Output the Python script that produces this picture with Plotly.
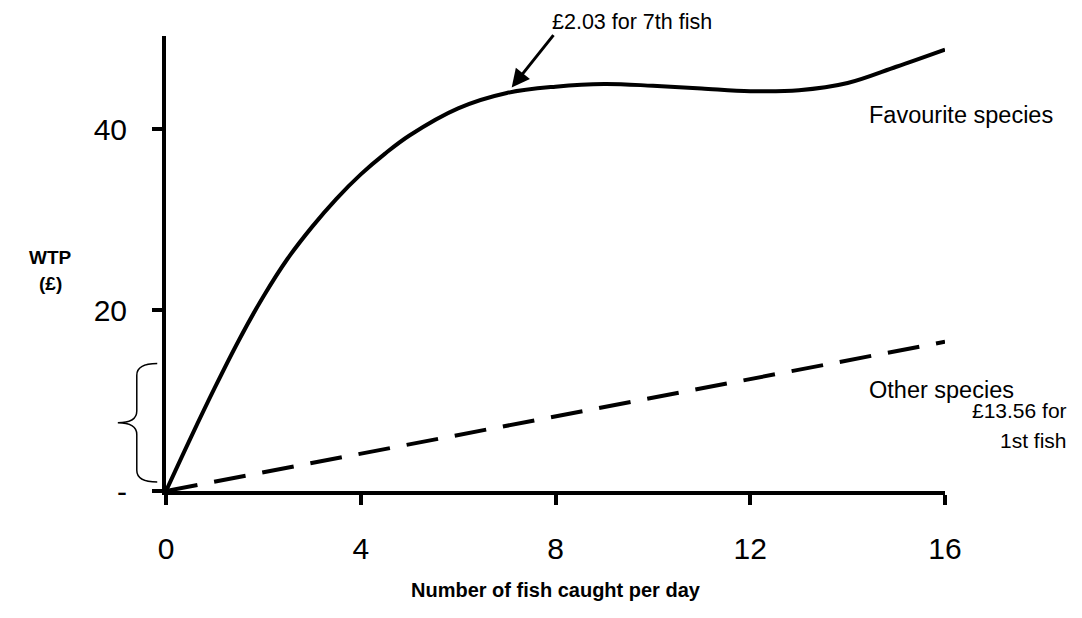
import plotly.graph_objects as go

# ---- data ----
fish = [0, 0.5, 1, 1.5, 2, 2.5, 3, 3.5, 4, 4.5, 5, 6, 7, 8, 9, 10, 11, 12, 13, 14, 15, 16]
wtp_favourite = [0, 5.8, 11.4, 16.7, 21.5, 25.7, 29.2, 32.3, 35.0, 37.3, 39.3, 42.3, 44.0,
                 44.7, 45.0, 44.8, 44.5, 44.2, 44.3, 45.1, 46.9, 48.8]
fish_other = [0, 16]
wtp_other = [0, 16.5]

x_ticks = [0, 4, 8, 12, 16]
y_ticks = [0, 20, 40]
y_ticktext = ["-", "20", "40"]

X_RANGE = [0, 16]
Y_RANGE = [0, 50.3]

# layout geometry (pixels)
W, H = 1082, 618
L, R, T, B = 166, 137, 36, 127
PW, PH = W - L - R, H - T - B


def px(x):
    return (x - L) / PW


def py(y):
    return (H - B - y) / PH


def dx(x):
    return (x - X_RANGE[0]) / (X_RANGE[1] - X_RANGE[0])


def dy(y):
    return (y - Y_RANGE[0]) / (Y_RANGE[1] - Y_RANGE[0])


SANS = "Liberation Sans, Arial, sans-serif"

fig = go.Figure()
fig.add_trace(go.Scatter(x=fish, y=wtp_favourite, mode="lines",
                         line=dict(color="black", width=4, shape="spline", smoothing=1.0),
                         showlegend=False, hoverinfo="skip"))
fig.add_trace(go.Scatter(x=fish_other, y=wtp_other, mode="lines",
                         line=dict(color="black", width=4, dash="32px,17px"),
                         showlegend=False, hoverinfo="skip"))


def brace_path(xe, xm, xt, y0, y1, d):
    # all inputs in data units, output in paper units
    ym = (y0 + y1) / 2
    P = lambda x, y: f"{dx(x):.5f},{dy(y):.5f}"
    return (f"M {P(xe, y1)} Q {P(xm, y1)} {P(xm, y1 - d)} L {P(xm, ym + d)} "
            f"Q {P(xm, ym)} {P(xt, ym)} Q {P(xm, ym)} {P(xm, ym - d)} "
            f"L {P(xm, y0 + d)} Q {P(xm, y0)} {P(xe, y0)}")


fig.add_shape(type="path", xref="paper", yref="paper",
              path=brace_path(-0.18, -0.6, -0.99, 1.0, 14.1, 1.3),
              line=dict(color="black", width=1.5))

annots = [
    dict(text="£2.03 for 7th fish", x=px(550), y=py(22), xanchor="left", yanchor="middle",
         font=dict(family=SANS, size=21.5)),
    dict(text="Favourite species", x=px(867), y=py(115), xanchor="left", yanchor="middle",
         font=dict(family=SANS, size=23.5)),
    dict(text="Other species", x=px(867), y=py(390), xanchor="left", yanchor="middle",
         font=dict(family=SANS, size=23.5)),
    dict(text="£13.56 for", x=px(1069), y=py(410), xanchor="right", yanchor="middle",
         font=dict(family=SANS, size=21)),
    dict(text="1st fish", x=px(1069), y=py(440), xanchor="right", yanchor="middle",
         font=dict(family=SANS, size=21)),
    dict(text="<b>WTP</b>", x=px(51), y=py(257), xanchor="center", yanchor="middle",
         font=dict(family=SANS, size=19)),
    dict(text="<b>(£)</b>", x=px(51), y=py(283), xanchor="center", yanchor="middle",
         font=dict(family=SANS, size=19)),
    dict(text="<b>Number of fish caught per day</b>", x=px(556), y=py(590),
         xanchor="center", yanchor="middle", font=dict(family=SANS, size=20)),
]
for a in annots:
    fig.add_annotation(xref="paper", yref="paper", showarrow=False,
                       font_color="black", **a)

# arrow pointing at the 7th fish
fig.add_annotation(xref="x", yref="y", x=7.1, y=44.6, ax=43, ay=-54, text="",
                   showarrow=True, arrowhead=2, arrowsize=1.2, arrowwidth=3,
                   arrowcolor="black")

fig.update_layout(
    width=W, height=H,
    margin=dict(l=L, r=R, t=T, b=B),
    paper_bgcolor="white", plot_bgcolor="white",
    font=dict(family=SANS, color="black"),
    xaxis=dict(range=X_RANGE, tickvals=x_ticks, showgrid=False, zeroline=False,
               showline=True, linecolor="black", linewidth=4,
               ticks="outside", ticklen=10, tickwidth=4, tickcolor="black",
               ticklabelstandoff=18, tickfont=dict(family=SANS, size=30)),
    yaxis=dict(range=Y_RANGE, tickvals=y_ticks, ticktext=y_ticktext,
               showgrid=False, zeroline=False,
               showline=True, linecolor="black", linewidth=4,
               ticks="outside", ticklen=10, tickwidth=4, tickcolor="black",
               ticklabelstandoff=19, tickfont=dict(family=SANS, size=30)),
)

fig.write_html("out.html")
